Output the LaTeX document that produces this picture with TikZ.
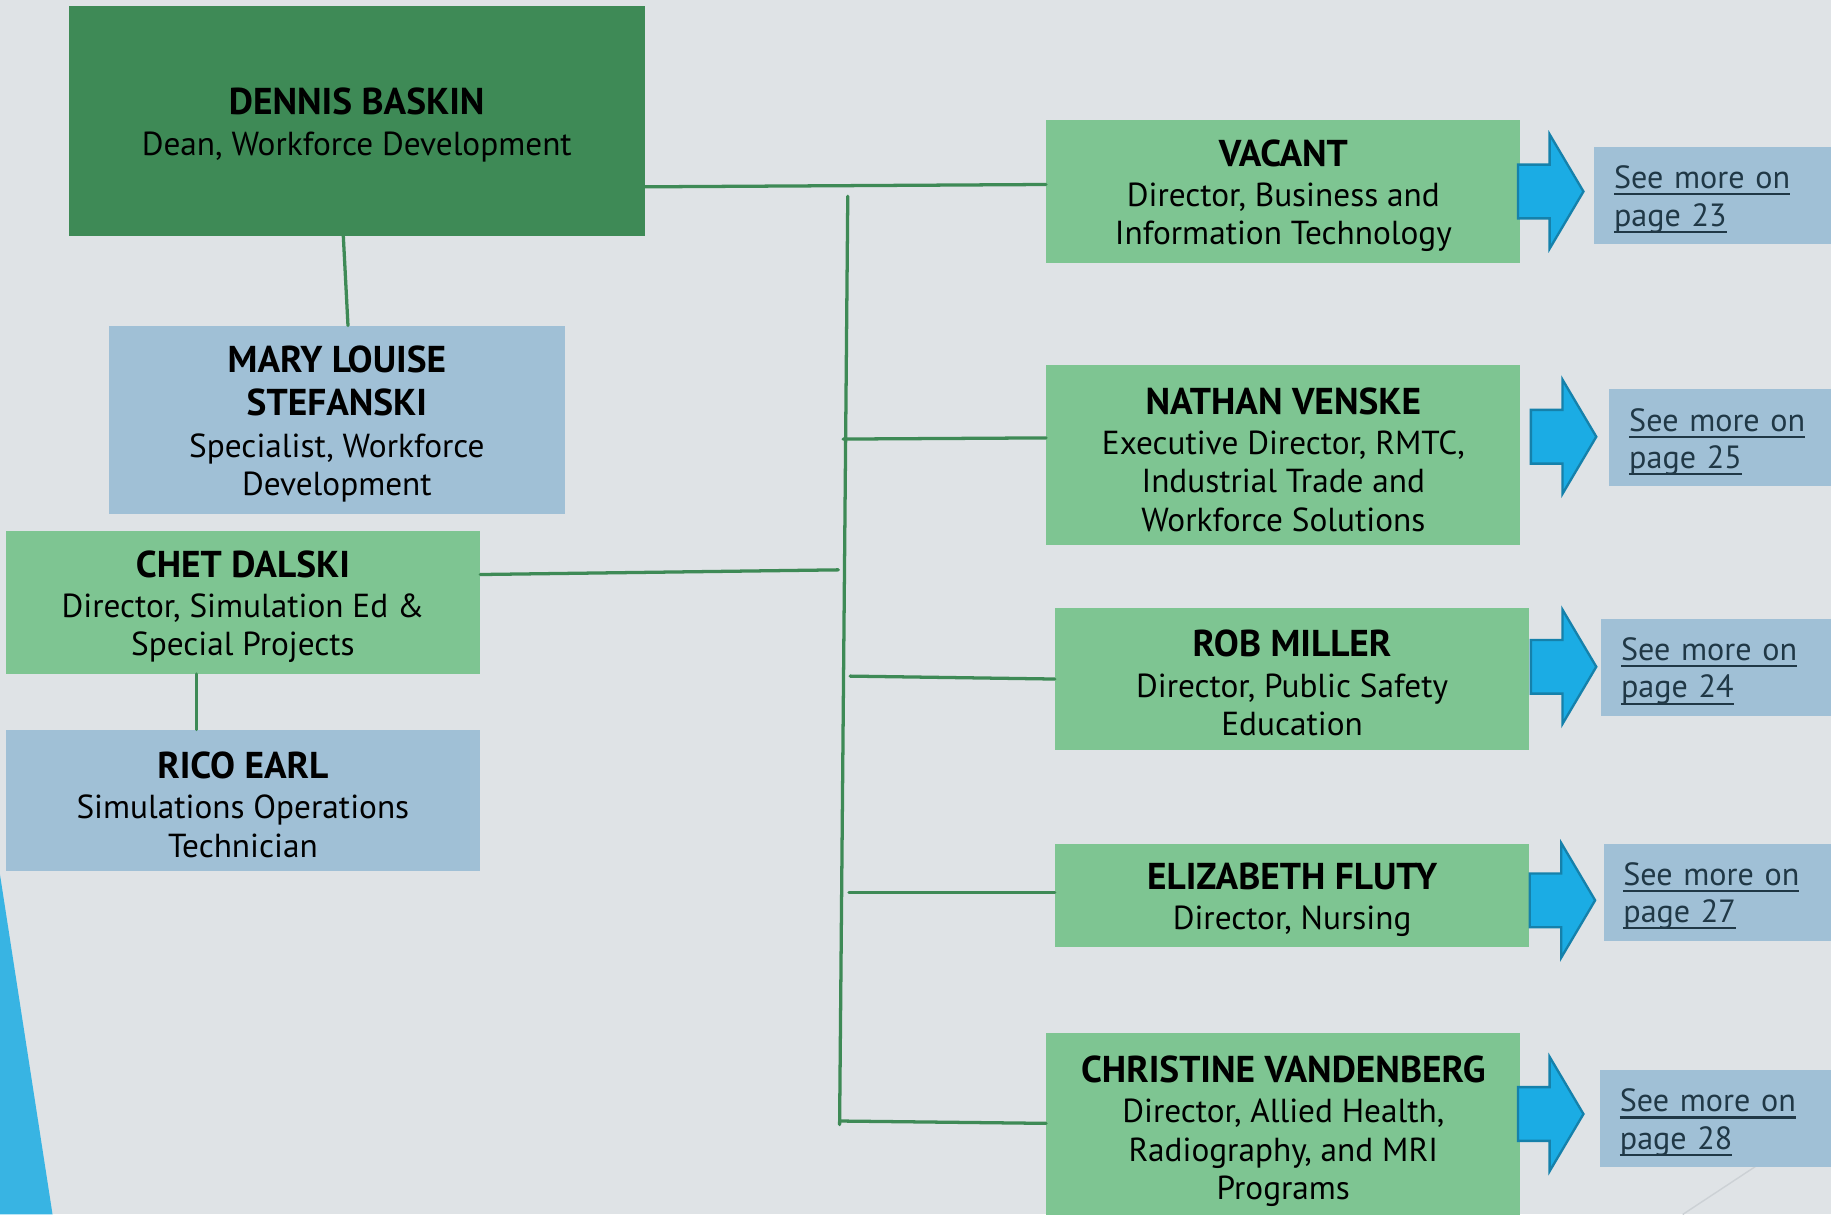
\documentclass[tikz,border=0pt]{standalone}
\usepackage{fontspec}
\setmainfont{PT Sans}
\definecolor{pagebg}{HTML}{DFE3E6}
\definecolor{deangreen}{HTML}{3E8A56}
\definecolor{dirgreen}{HTML}{7EC592}
\definecolor{staffblue}{HTML}{A0C0D6}
\definecolor{arrowfill}{HTML}{1BACE4}
\definecolor{arrowedge}{HTML}{1581AB}
\definecolor{accentblue}{HTML}{38B4E3}
\definecolor{linkink}{HTML}{203846}
\definecolor{faintline}{HTML}{CCD1D5}
% underlined text with the rule at a fixed depth below the baseline
\newcommand{\linkul}[1]{\leavevmode\rule{0pt}{26pt}\hbox{\vtop{\hbox{\smash{#1}}\kern 4pt\hrule height 1.8pt}}}
% names are set larger and bold, with a little headroom above
\newcommand{\who}[1]{\rule{0pt}{30pt}{\fontsize{32}{33}\selectfont\bfseries #1}}
\tikzset{
  orgbox/.style={rectangle, inner sep=0pt, align=center, text=black,
    font=\fontsize{28.5}{33}\selectfont},
  deanbox/.style={orgbox, fill=deangreen},
  dirbox/.style={orgbox, fill=dirgreen, minimum width=406pt},
  staffbox/.style={orgbox, fill=staffblue},
  linkbox/.style={rectangle, fill=staffblue, anchor=west, align=left,
    inner xsep=17pt, inner ysep=0pt, minimum height=83pt, text width=185pt,
    text=linkink, font=\fontsize{27.5}{32}\selectfont},
  tie/.style={draw=deangreen, line width=2.8pt, line cap=round},
  blockarrow/.pic={
    \draw[fill=arrowfill, draw=arrowedge, line width=2pt, line join=miter]
      (0,-23) -- (27,-23) -- (27,-49) -- (56,0) -- (27,49) -- (27,23)
      -- (0,23) -- cycle;
  }
}
\newcommand{\seemore}[1]{\linkul{See more on}\\\linkul{page #1}}
\begin{document}
\begin{tikzpicture}[x=1pt,y=-1pt]
\useasboundingbox (0,0) rectangle (1568,1040);
\fill[pagebg] (0,0) rectangle (1568,1040);

% decorative background accents
\fill[accentblue] (0,749) -- (45,1040) -- (0,1040) -- cycle;
\draw[faintline, line width=1.2pt] (1441,1040) -- (1620,922);

% people
\node[deanbox, minimum width=493pt, minimum height=197pt] (dean) at (305.5,103.5)
  {\who{DENNIS BASKIN}\\[1.5pt]Dean, Workforce Development};
\node[staffbox, minimum width=391pt, minimum height=161pt] (mary) at (288.5,359.5)
  {\who{MARY LOUISE}\\[4pt]\who{STEFANSKI}\\[2.5pt]Specialist, Workforce\\Development};
\node[dirbox, minimum height=122pt] (chet) at (208,516)
  {\who{CHET DALSKI}\\[1.5pt]Director, Simulation Ed \&\\Special Projects};
\node[staffbox, minimum width=406pt, minimum height=121pt] (rico) at (208,685.5)
  {\who{RICO EARL}\\[1.5pt]Simulations Operations\\Technician};

\node[dirbox, minimum height=122pt] (vacant) at (1099,164)
  {\who{VACANT}\\[1.5pt]Director, Business and\\Information Technology};
\node[dirbox, minimum height=154pt] (nathan) at (1099,390)
  {\who{NATHAN VENSKE}\\[1.5pt]Executive Director, RMTC,\\Industrial Trade and\\Workforce Solutions};
\node[dirbox, minimum height=121pt] (rob) at (1106.5,581.5)
  {\who{ROB MILLER}\\[1.5pt]Director, Public Safety\\Education};
\node[dirbox, minimum height=88pt] (liz) at (1106.5,767)
  {\who{ELIZABETH FLUTY}\\[1.5pt]Director, Nursing};
\node[dirbox, minimum height=160pt] (christine) at (1099,965)
  {\who{CHRISTINE VANDENBERG}\\[1.5pt]Director, Allied Health,\\Radiography, and MRI\\Programs};

% page references
\pic at (1300,164) {blockarrow};
\pic at (1311,374) {blockarrow};
\pic at (1311,571) {blockarrow};
\pic at (1310,771) {blockarrow};
\pic at (1300,954) {blockarrow};
\node[linkbox] (ref23) at (1365,167.5) {\seemore{23}};
\node[linkbox] (ref25) at (1378,375) {\seemore{25}};
\node[linkbox] (ref24) at (1371,571.5) {\seemore{24}};
\node[linkbox] (ref27) at (1373,764) {\seemore{27}};
\node[linkbox] (ref28) at (1370,958) {\seemore{28}};

% reporting lines
\coordinate (bustop) at (726,168);
\coordinate (busbot) at (719,963);
\coordinate (jnathan) at (722,376);
\coordinate (jchet) at (718,488);
\coordinate (jrob) at (728,579);
\coordinate (jliz) at (727,764);
\coordinate (jchristine) at (719,960);

\draw[tie] ([yshift=-56.5pt]dean.east) -- ([yshift=6pt]vacant.west);
\draw[tie] ([xshift=-11.5pt]dean.south) -- ([xshift=9.5pt]mary.north);
\draw[tie] (bustop) -- (busbot);
\draw[tie] (jnathan) -- ([yshift=15pt]nathan.west);
\draw[tie] ([yshift=24pt]chet.east) -- (jchet);
\draw[tie] (jrob) -- (rob.west);
\draw[tie] (jliz) -- ([yshift=3pt]liz.west);
\draw[tie] (jchristine) -- ([yshift=3pt]christine.west);
\draw[tie] ([xshift=-40pt]chet.south) -- ([xshift=-40pt]rico.north);
\end{tikzpicture}
\end{document}
